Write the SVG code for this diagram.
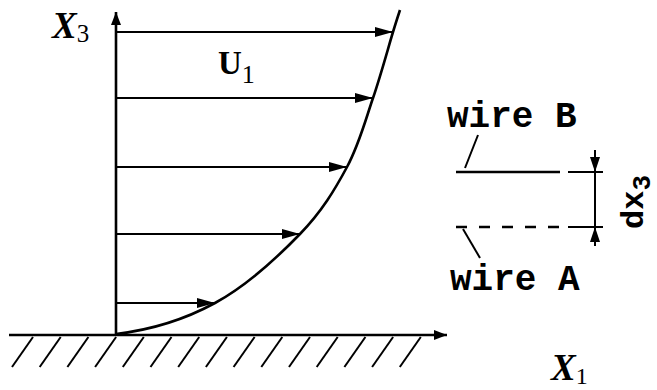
<svg xmlns="http://www.w3.org/2000/svg" width="657" height="390" viewBox="0 0 657 390">
  <style>
    .ln { stroke: #000; fill: none; stroke-width: 2; }
    .ax { stroke: #000; fill: none; stroke-width: 2.6; }
    .hatch { stroke: #000; stroke-width: 2; }
    .mono { font-family: "Liberation Mono", "DejaVu Sans Mono", monospace; font-weight: bold; fill: #000; }
    .serif { font-family: "Liberation Serif", "DejaVu Serif", serif; font-weight: bold; fill: #000; }
  </style>
  <defs>
    <marker id="ah" viewBox="0 0 18 10" refX="18" refY="5" markerWidth="18" markerHeight="10" markerUnits="userSpaceOnUse" orient="auto">
      <path d="M0,0 L18,5 L0,10 z" fill="#000"/>
    </marker>
    <marker id="axh" viewBox="0 0 13 10" refX="13" refY="5" markerWidth="13" markerHeight="10" markerUnits="userSpaceOnUse" orient="auto">
      <path d="M0,0 L13,5 L0,10 z" fill="#000"/>
    </marker>
    <marker id="dh" viewBox="0 0 15 10" refX="15" refY="5" markerWidth="15" markerHeight="10" markerUnits="userSpaceOnUse" orient="auto">
      <path d="M0,0 L15,5 L0,10 z" fill="#000"/>
    </marker>
  </defs>

  <g id="wall">
    <g class="hatch">
      <line x1="33" y1="337" x2="12" y2="367"/>
      <line x1="60.7" y1="337" x2="39.7" y2="367"/>
      <line x1="88.4" y1="337" x2="67.4" y2="367"/>
      <line x1="116.1" y1="337" x2="95.1" y2="367"/>
      <line x1="143.8" y1="337" x2="122.8" y2="367"/>
      <line x1="171.5" y1="337" x2="150.5" y2="367"/>
      <line x1="199.2" y1="337" x2="178.2" y2="367"/>
      <line x1="226.9" y1="337" x2="205.9" y2="367"/>
      <line x1="254.6" y1="337" x2="233.6" y2="367"/>
      <line x1="282.3" y1="337" x2="261.3" y2="367"/>
      <line x1="310" y1="337" x2="289" y2="367"/>
      <line x1="337.7" y1="337" x2="316.7" y2="367"/>
      <line x1="365.4" y1="337" x2="344.4" y2="367"/>
      <line x1="393.1" y1="337" x2="372.1" y2="367"/>
      <line x1="420.8" y1="337" x2="399.8" y2="367"/>
    </g>
  </g>

  <g id="axis-x1">
    <line class="ax" x1="9" y1="335" x2="447" y2="335" marker-end="url(#axh)"/>
    <text class="serif" font-style="italic" x="551" y="380" font-size="37">X<tspan font-style="normal" font-weight="normal" font-size="24" dy="4">1</tspan></text>
  </g>

  <g id="axis-x3">
    <line class="ax" x1="116" y1="335" x2="116" y2="12" marker-end="url(#axh)"/>
    <text class="serif" font-style="italic" x="52" y="38" font-size="37">X<tspan font-style="normal" font-weight="normal" font-size="25" dy="4">3</tspan></text>
  </g>

  <g id="profile">
    <path class="ax" d="M116,334 C150,330 184.3,319.7 215,303 C245.7,286.3 278,256.7 300,234 C322,211.3 334.8,189.7 347,167 C359.2,144.3 365.3,120.5 373,98 C380.7,75.5 388.5,46.7 393,32 C397.5,17.3 398.8,13.7 400,10"/>
    <text class="serif" x="218" y="74" font-size="33">U<tspan font-weight="normal" font-size="26" dy="9">1</tspan></text>
  </g>

  <g id="wire-b">
    <line class="ax" x1="456" y1="172" x2="560" y2="172"/>
    <line class="ln" x1="478" y1="135" x2="465" y2="168"/>
    <text class="mono" x="447" y="127" font-size="36">wire B</text>
  </g>

  <g id="wire-a">
    <line class="ax" x1="456" y1="227" x2="560" y2="227" stroke-dasharray="11 12"/>
    <line class="ln" x1="463" y1="229" x2="480" y2="258"/>
    <text class="mono" x="450" y="290" font-size="36">wire A</text>
  </g>

  <g id="dimension">
    <line class="ln" x1="568" y1="172" x2="603" y2="172"/>
    <line class="ln" x1="568" y1="227" x2="603" y2="227"/>
    <line class="ln" x1="595" y1="150" x2="595" y2="172" marker-end="url(#dh)"/>
    <line class="ln" x1="595" y1="172" x2="595" y2="227"/>
    <line class="ln" x1="595" y1="246" x2="595" y2="227" marker-end="url(#dh)"/>
    <text class="mono" transform="translate(643,229) rotate(-90)" font-size="32">dx<tspan font-size="26" dy="7">3</tspan></text>
  </g>

  <g id="connectors">
    <line class="ln" x1="116" y1="32" x2="393" y2="32" marker-end="url(#ah)"/>
    <line class="ln" x1="116" y1="98" x2="373" y2="98" marker-end="url(#ah)"/>
    <line class="ln" x1="116" y1="167" x2="347" y2="167" marker-end="url(#ah)"/>
    <line class="ln" x1="116" y1="234" x2="300" y2="234" marker-end="url(#ah)"/>
    <line class="ln" x1="116" y1="303" x2="215" y2="303" marker-end="url(#ah)"/>
  </g>
</svg>
